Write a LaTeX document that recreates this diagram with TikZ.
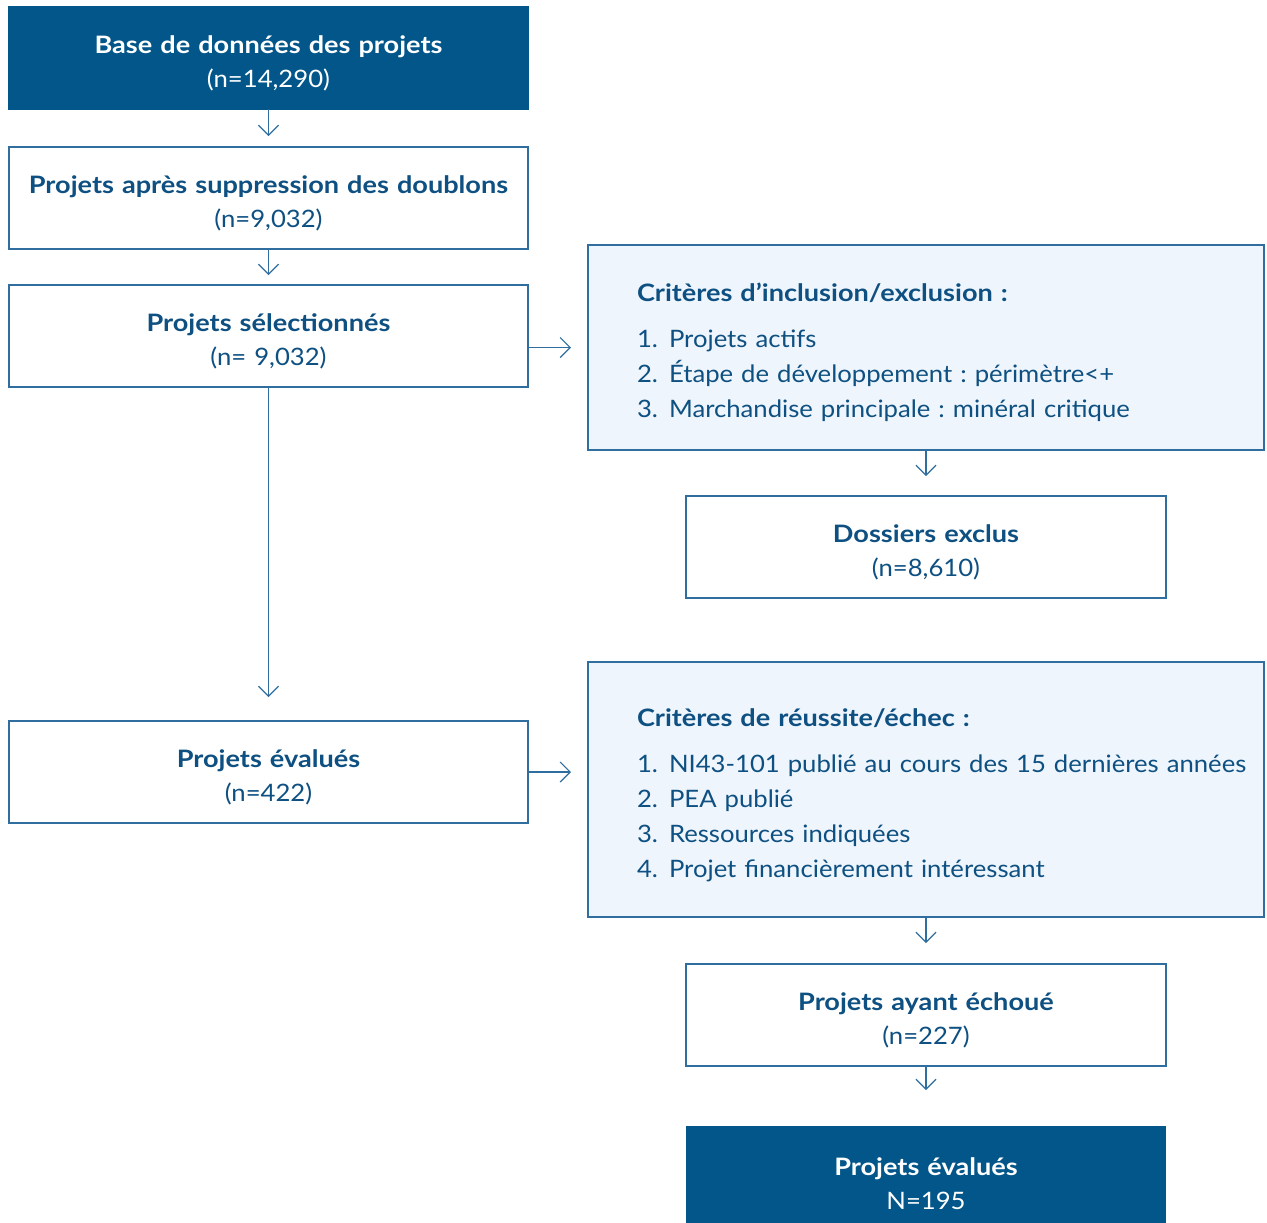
\documentclass[tikz,border=0pt]{standalone}
\usepackage{fontspec}
\setmainfont{Lato}[FakeStretch=1.07, BoldFeatures={FakeStretch=1.13}]
\usetikzlibrary{arrows.meta,positioning}
\definecolor{navy}{HTML}{02568A}
\definecolor{ink}{HTML}{0E5081}
\definecolor{edge}{HTML}{2F6E9E}
\definecolor{softblue}{HTML}{EEF5FC}
\frenchspacing
\newcommand{\critline}[2]{\mbox{\makebox[16pt][l]{#1.}#2}}
\tikzset{
  font=\fontsize{12}{17}\selectfont,
  block/.style={
    draw=edge, line width=0.6pt, fill=white, text=ink,
    text width=259.5pt, minimum height=51pt, align=center,
    inner sep=0pt, outer sep=0pt,
    execute at begin node={\rule{0pt}{14.5pt}}
  },
  dark/.style={block, draw=navy, fill=navy, text=white},
  small/.style={block, text width=240pt},
  criteria/.style={block, fill=softblue, text width=289pt, align=left,
    inner xsep=24.5pt, font=\fontsize{12}{17.5}\selectfont},
  flow/.style={-{Straight Barb[length=5pt,width=10pt]}, draw=edge, line width=0.6pt}
}
\begin{document}
\begin{tikzpicture}
  \useasboundingbox (-134.25pt,29pt) rectangle (499.25pt,-582pt);

  % left column
  \node[dark] (base) {\textbf{Base de données des projets}\\(n=14,290)};
  \node[block, below=19pt of base] (dedup) {\textbf{Projets après suppression des doublons}\\(n=9,032)};
  \node[block, below=18pt of dedup] (selected) {\textbf{Projets sélectionnés}\\(n= 9,032)};
  \node[block, below=167pt of selected] (assessed) {\textbf{Projets évalués}\\(n=422)};

  % right column
  \node[criteria, minimum height=102.5pt, right=30pt of selected, yshift=-5.75pt] (inclusion) {\textbf{Critères d’inclusion/exclusion :}\\[5.5pt]
    \critline{1}{Projets actifs}\\
    \critline{2}{Étape de développement : périmètre<+}\\
    \critline{3}{Marchandise principale : minéral critique}};
  \node[small, below=23pt of inclusion] (excluded) {\textbf{Dossiers exclus}\\(n=8,610)};

  \node[criteria, minimum height=127.5pt, right=30pt of assessed, yshift=-8.75pt] (success) {\textbf{Critères de réussite/échec :}\\[5.5pt]
    \critline{1}{NI43-101 publié au cours des 15 dernières années}\\
    \critline{2}{PEA publié}\\
    \critline{3}{Ressources indiquées}\\
    \critline{4}{Projet financièrement intéressant}};
  \node[small, below=23.5pt of success] (failed) {\textbf{Projets ayant échoué}\\(n=227)};
  \node[dark, text width=239pt, below=30.5pt of failed] (final) {\textbf{Projets évalués}\\N=195};

  \draw[flow, shorten >=5.5pt] (base) -- (dedup);
  \draw[flow, shorten >=5pt] (dedup) -- (selected);
  \draw[flow, shorten >=12pt] (selected) -- (assessed);
  \draw[flow, shorten >=8.5pt] (selected.east |- inclusion.west) -- (inclusion.west);
  \draw[flow, shorten >=10pt] (inclusion) -- (excluded);
  \draw[flow, shorten >=8.5pt] (assessed.east) -- (assessed.east -| success.west);
  \draw[flow, shorten >=10.5pt] (success) -- (failed);
  \draw[flow, shorten >=18.5pt] (failed) -- (final);
\end{tikzpicture}
\end{document}
